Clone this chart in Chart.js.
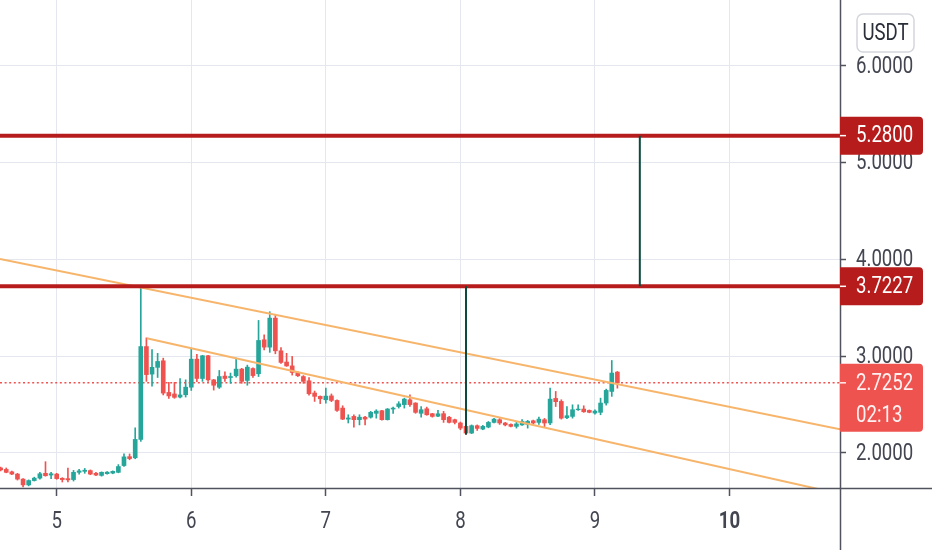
<!DOCTYPE html>
<html>
<head>
<meta charset="utf-8">
<script src="https://cdn.jsdelivr.net/npm/chart.js@4.4.1/dist/chart.umd.min.js"></script>
<style>
  html, body { margin: 0; padding: 0; background: #fff; }
  canvas { display: block; }
</style>
</head>
<body>
<canvas id="chart" width="932" height="550"></canvas>
<script>
// hourly candles, the first one opens ten hours before day 5
const firstDay = 5;
const firstHour = -10;

const opens = [
  1.845, 1.830, 1.805, 1.782, 1.730, 1.670, 1.715, 1.740, 1.790, 1.772,
  1.782, 1.738, 1.735, 1.725, 1.800, 1.810, 1.818, 1.790, 1.768, 1.786,
  1.792, 1.800, 1.870, 1.962, 1.950, 2.140, 3.100, 2.815, 2.885, 2.953,
  2.626, 2.610, 2.578, 2.602, 2.680, 2.970, 2.770, 3.005, 2.756, 2.680,
  2.795, 2.780, 2.798, 2.867, 2.750, 2.873, 2.819, 3.170, 3.094, 3.394,
  3.056, 2.940, 2.900, 2.832, 2.790, 2.746, 2.620, 2.585, 2.550, 2.590,
  2.543, 2.464, 2.350, 2.378, 2.344, 2.370, 2.370, 2.410, 2.437, 2.344,
  2.454, 2.480, 2.500, 2.550, 2.516, 2.410, 2.457, 2.406, 2.380, 2.406,
  2.370, 2.344, 2.310, 2.275, 2.206, 2.282, 2.247, 2.268, 2.316, 2.344,
  2.310, 2.295, 2.275, 2.290, 2.295, 2.333, 2.316, 2.344, 2.310, 2.564,
  2.533, 2.364, 2.378, 2.447, 2.454, 2.440, 2.413, 2.420, 2.516, 2.636,
  2.836
];
const highs = [
  1.855, 1.845, 1.812, 1.790, 1.735, 1.722, 1.750, 1.800, 1.910, 1.800,
  1.790, 1.745, 1.845, 1.820, 1.830, 1.840, 1.825, 1.800, 1.805, 1.808,
  1.815, 1.880, 1.990, 1.990, 2.260, 3.717, 3.190, 3.070, 3.030, 2.980,
  2.730, 2.730, 2.770, 2.756, 3.084, 3.020, 3.010, 3.010, 2.760, 2.853,
  2.840, 2.826, 2.980, 2.875, 2.908, 2.880, 3.370, 3.220, 3.460, 3.428,
  3.090, 3.030, 2.998, 2.840, 2.800, 2.780, 2.640, 2.590, 2.670, 2.610,
  2.550, 2.488, 2.395, 2.395, 2.395, 2.378, 2.430, 2.447, 2.440, 2.460,
  2.474, 2.530, 2.567, 2.600, 2.520, 2.480, 2.474, 2.410, 2.440, 2.430,
  2.378, 2.350, 2.320, 2.290, 2.290, 2.290, 2.285, 2.326, 2.357, 2.357,
  2.316, 2.300, 2.316, 2.344, 2.337, 2.340, 2.370, 2.357, 2.670, 2.636,
  2.550, 2.480, 2.498, 2.498, 2.488, 2.445, 2.445, 2.567, 2.660, 2.956,
  2.843
];
const lows = [
  1.815, 1.795, 1.775, 1.720, 1.650, 1.660, 1.710, 1.730, 1.760, 1.735,
  1.728, 1.700, 1.700, 1.710, 1.780, 1.790, 1.775, 1.765, 1.760, 1.780,
  1.785, 1.795, 1.860, 1.930, 1.940, 2.120, 2.740, 2.690, 2.780, 2.600,
  2.565, 2.565, 2.570, 2.578, 2.646, 2.736, 2.740, 2.740, 2.650, 2.667,
  2.740, 2.720, 2.784, 2.720, 2.700, 2.780, 2.790, 3.066, 3.040, 3.025,
  2.925, 2.895, 2.805, 2.790, 2.720, 2.598, 2.533, 2.510, 2.515, 2.530,
  2.430, 2.344, 2.310, 2.268, 2.290, 2.290, 2.360, 2.360, 2.340, 2.340,
  2.410, 2.464, 2.464, 2.480, 2.410, 2.370, 2.390, 2.370, 2.375, 2.316,
  2.310, 2.300, 2.240, 2.190, 2.200, 2.233, 2.240, 2.260, 2.310, 2.295,
  2.280, 2.270, 2.257, 2.285, 2.257, 2.300, 2.295, 2.268, 2.292, 2.480,
  2.350, 2.355, 2.360, 2.440, 2.420, 2.415, 2.400, 2.395, 2.495, 2.585,
  2.670
];
const closes = [
  1.825, 1.800, 1.782, 1.730, 1.670, 1.715, 1.740, 1.785, 1.765, 1.785,
  1.735, 1.725, 1.722, 1.800, 1.815, 1.822, 1.782, 1.772, 1.800, 1.802,
  1.810, 1.860, 1.960, 1.942, 2.140, 3.100, 2.810, 2.885, 2.946, 2.619,
  2.590, 2.575, 2.600, 2.680, 2.970, 2.770, 3.005, 2.756, 2.700, 2.790,
  2.770, 2.790, 2.867, 2.740, 2.887, 2.800, 3.163, 3.094, 3.394, 3.056,
  2.936, 2.900, 2.832, 2.798, 2.740, 2.612, 2.585, 2.560, 2.588, 2.543,
  2.440, 2.350, 2.362, 2.344, 2.370, 2.350, 2.420, 2.433, 2.344, 2.454,
  2.464, 2.508, 2.557, 2.500, 2.420, 2.447, 2.395, 2.378, 2.405, 2.344,
  2.316, 2.316, 2.257, 2.206, 2.282, 2.254, 2.275, 2.316, 2.350, 2.310,
  2.290, 2.275, 2.300, 2.326, 2.326, 2.310, 2.350, 2.310, 2.557, 2.530,
  2.360, 2.385, 2.447, 2.454, 2.426, 2.420, 2.433, 2.516, 2.647, 2.826,
  2.7252
];

const xTicks = [5, 6, 7, 8, 9, 10];
const yTicks = [2, 3, 4, 5, 6];

const levels = [5.28, 3.7227];
const lastPrice = 2.7252;
const countdown = '02:13';
const currency = 'USDT';

// drawings, as [day, price] anchors
const upperLine = [[4.5786, 4.004], [10.821, 2.246]];
const lowerLine = [[5.669, 3.185], [10.821, 1.577]];
const moveA = [[8 + 1 / 24, 3.7227], [8 + 1 / 24, 2.19]];
const moveB = [[9 + 8 / 24, 5.28], [9 + 8 / 24, 3.7227]];

// visible window
const X_MIN = 4.5786, X_MAX = 10.821;
const Y_MIN = 1.638, Y_MAX = 6.682;

const UP = '#26a69a', DOWN = '#ef5350';
const LEVEL = '#b71c1c', TEXT = '#434651', GRID = '#e4e8ee', AXIS = '#50535e';

const times = opens.map((_, i) => firstDay + (firstHour + i) / 24);
const colors = opens.map((o, i) => closes[i] >= o ? UP : DOWN);

const pts = arr => arr.map(p => ({ x: p[0], y: p[1] }));

function squeezed(ctx, text, x, y, color, align, weight) {
  ctx.save();
  ctx.font = (weight || 'normal') + ' 23px Roboto';
  ctx.fillStyle = color;
  ctx.textBaseline = 'middle';
  ctx.textAlign = align || 'left';
  ctx.translate(x, y);
  ctx.scale(0.81, 1);
  ctx.fillText(text, 0, 0);
  ctx.restore();
}

function priceTag(ctx, chart, value, lines, fill, ink) {
  const y = chart.scales.y.getPixelForValue(value);
  const x0 = chart.chartArea.right;
  const h = lines.length > 1 ? 68 : 38;
  ctx.save();
  ctx.fillStyle = fill;
  ctx.beginPath();
  ctx.roundRect(x0, y - 19, 83, h, [0, 4, 4, 0]);
  ctx.fill();
  ctx.strokeStyle = ink;
  ctx.lineWidth = 1.5;
  ctx.beginPath();
  ctx.moveTo(x0, y);
  ctx.lineTo(x0 + 6, y);
  ctx.stroke();
  ctx.restore();
  lines.forEach((t, i) => squeezed(ctx, t, x0 + 16, y + 1 + i * 32, ink));
}

const axisPainter = {
  id: 'axisPainter',
  afterDraw(chart) {
    const ctx = chart.ctx;
    const area = chart.chartArea;
    const xs = chart.scales.x, ys = chart.scales.y;

    ctx.save();
    ctx.strokeStyle = AXIS;
    ctx.lineWidth = 1.5;
    ctx.beginPath();
    ctx.moveTo(area.right + 0.5, 0);
    ctx.lineTo(area.right + 0.5, chart.height);
    ctx.moveTo(0, area.bottom + 0.5);
    ctx.lineTo(chart.width, area.bottom + 0.5);
    ctx.stroke();
    ctx.restore();

    ys.ticks.forEach(t => {
      squeezed(ctx, t.value.toFixed(4), area.right + 16, ys.getPixelForValue(t.value) + 1, TEXT);
    });
    xs.ticks.forEach(t => {
      squeezed(ctx, String(t.value), xs.getPixelForValue(t.value), area.bottom + 34, TEXT, 'center',
        t.value === 10 ? 'bold' : 'normal');
    });

    priceTag(ctx, chart, levels[0], [levels[0].toFixed(4)], LEVEL, '#ffffff');
    priceTag(ctx, chart, levels[1], [levels[1].toFixed(4)], LEVEL, '#ffffff');
    priceTag(ctx, chart, lastPrice, [lastPrice.toFixed(4), countdown], DOWN, '#fff1f1');

    ctx.save();
    ctx.strokeStyle = '#d3d6dd';
    ctx.lineWidth = 1.5;
    ctx.beginPath();
    ctx.roundRect(857, 14, 57, 38, 6);
    ctx.stroke();
    ctx.restore();
    squeezed(ctx, currency, 885.5, 34, '#2a2e39', 'center');
  }
};

new Chart(document.getElementById('chart'), {
  type: 'bar',
  data: {
    datasets: [
      {
        type: 'line',
        data: pts([[X_MIN, lastPrice], [X_MAX, lastPrice]]),
        borderColor: DOWN,
        borderWidth: 1.5,
        borderDash: [2, 2.6],
        pointRadius: 0,
        order: 10
      },
      {
        data: times.map((t, i) => ({ x: t, y: [lows[i], highs[i]] })),
        backgroundColor: colors,
        barThickness: 1,
        grouped: false,
        order: 6
      },
      {
        data: times.map((t, i) => ({ x: t, y: [opens[i], closes[i]] })),
        backgroundColor: colors,
        barThickness: 4,
        grouped: false,
        order: 5
      },
      {
        type: 'line',
        data: pts(upperLine),
        borderColor: '#f7b56c',
        borderWidth: 2,
        pointRadius: 0,
        order: 4
      },
      {
        type: 'line',
        data: pts(lowerLine),
        borderColor: '#f7b56c',
        borderWidth: 2,
        pointRadius: 0,
        order: 4
      },
      {
        type: 'line',
        data: pts([[X_MIN, levels[0]], [X_MAX, levels[0]]]),
        borderColor: LEVEL,
        borderWidth: 4,
        pointRadius: 0,
        order: 2
      },
      {
        type: 'line',
        data: pts([[X_MIN, levels[1]], [X_MAX, levels[1]]]),
        borderColor: LEVEL,
        borderWidth: 4,
        pointRadius: 0,
        order: 2
      },
      {
        type: 'line',
        data: pts(moveA),
        borderColor: '#0b4a3c',
        borderWidth: 2,
        pointRadius: 0,
        order: 1
      },
      {
        type: 'line',
        data: pts(moveB),
        borderColor: '#0b4a3c',
        borderWidth: 2,
        pointRadius: 0,
        order: 1
      }
    ]
  },
  options: {
    responsive: false,
    animation: false,
    layout: { padding: 0 },
    plugins: { legend: { display: false }, tooltip: { enabled: false } },
    scales: {
      x: {
        type: 'linear',
        min: X_MIN,
        max: X_MAX,
        offset: false,
        grid: { color: GRID, offset: false, tickLength: 8, tickColor: AXIS, tickWidth: 1.5 },
        border: { display: false },
        ticks: { display: false },
        afterBuildTicks: s => { s.ticks = xTicks.map(v => ({ value: v })); },
        afterFit: s => { s.height = 62; }
      },
      y: {
        type: 'linear',
        position: 'right',
        min: Y_MIN,
        max: Y_MAX,
        beginAtZero: false,
        grid: { color: GRID, tickLength: 6, tickColor: AXIS, tickWidth: 1.5 },
        border: { display: false },
        ticks: { display: false },
        afterBuildTicks: s => { s.ticks = yTicks.map(v => ({ value: v })); },
        afterFit: s => { s.width = 92; }
      }
    }
  },
  plugins: [axisPainter]
});
</script>
</body>
</html>
